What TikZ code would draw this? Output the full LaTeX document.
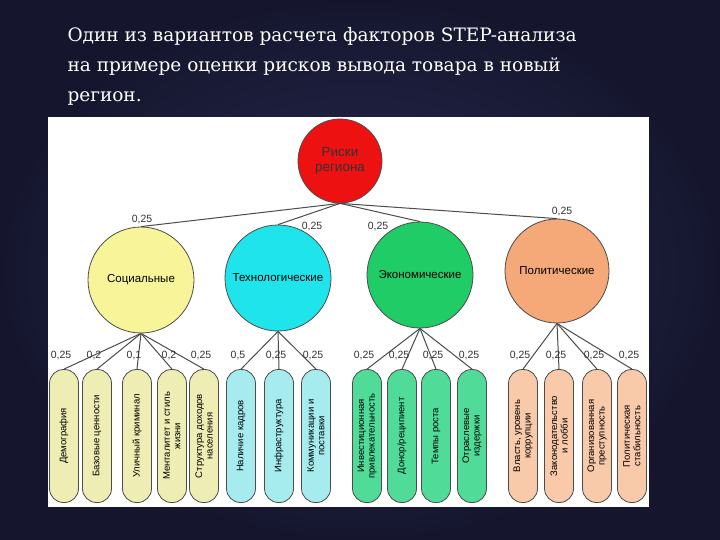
\documentclass[tikz,border=0pt]{standalone}
\usepackage{fontspec}
\setmainfont{DejaVu Serif}
\newfontfamily\dsans{Liberation Sans}
\usetikzlibrary{calc}
\definecolor{bgnavy}{HTML}{2A2B52}
\definecolor{bgdark}{HTML}{15162E}
\definecolor{csoc}{HTML}{F8F49A}\definecolor{lsoc}{HTML}{EEEDB4}
\definecolor{ctec}{HTML}{20E4EC}\definecolor{ltec}{HTML}{A6ECEE}
\definecolor{ceco}{HTML}{20CC66}\definecolor{leco}{HTML}{50DC98}
\definecolor{cpol}{HTML}{F5A878}\definecolor{lpol}{HTML}{F8CAAA}
\definecolor{croot}{HTML}{EE1111}
\tikzset{
 circ/.style={circle,draw=black!70,line width=0.8pt,inner sep=0pt,font=\dsans\fontsize{11.5}{12}\selectfont},
 pill/.style={rectangle,rounded corners=14pt,draw=black!70,line width=0.8pt,minimum width=133,minimum height=29,rotate=90,inner sep=1pt,align=center,font=\dsans\fontsize{9.5}{10.5}\selectfont},
 edge/.style={draw=black!70,line width=1pt},
 wt/.style={font=\dsans\fontsize{10.5}{11}\selectfont,text=black!80,inner sep=0pt}
}
\newcommand\leafwt[2]{\node[wt] at ($(#1.east)+(-3,-14)$) {#2};}
\begin{document}
\begin{tikzpicture}[x=1pt,y=-1pt]
\useasboundingbox (0,0) rectangle (720,540);
\shade[inner color=bgnavy,outer color=bgdark] (0,0) rectangle (720,540);
\fill[white] (48,117) rectangle (649,507);
\node[anchor=west,text=white,align=left,font=\fontsize{18.5}{30}\selectfont] (title) at (64,66) {Один из вариантов расчета факторов STEP-анализа\\на примере оценки рисков вывода товара в новый\\регион.};
\node[circ,fill=croot,minimum size=84,align=center,font=\dsans\fontsize{13.5}{15}\selectfont,text=black!80] (root) at (340,161) {Риски\\региона};
\node[circ,fill=csoc,minimum size=106] (soc) at (141,280) {Социальные};
\node[circ,fill=ctec,minimum size=106] (tec) at (278,278) {Технологические};
\node[circ,fill=ceco,minimum size=106] (eco) at (420,275) {Экономические};
\node[circ,fill=cpol,minimum size=104] (pol) at (557,271) {Политические};
\draw[edge] (root.south) -- (soc.north);
\draw[edge] (root.south) -- (tec.north);
\draw[edge] (root.south) -- (eco.north);
\draw[edge] (root.south) -- (pol.north);
\node[wt] (w1) at (142,220) {0,25};
\node[wt] (w2) at (312,227) {0,25};
\node[wt] (w3) at (378,227) {0,25};
\node[wt] (w4) at (562,212) {0,25};
\node[pill,fill=lsoc] (s1) at (64,436) {Демография};
\node[pill,fill=lsoc] (s2) at (97,436) {Базовые ценности};
\node[pill,fill=lsoc] (s3) at (137,436) {Уличный криминал};
\node[pill,fill=lsoc] (s4) at (172,436) {Менталитет и стиль\\жизни};
\node[pill,fill=lsoc] (s5) at (204,436) {Структура доходов\\населения};
\node[pill,fill=ltec] (t1) at (241,436) {Наличие кадров};
\node[pill,fill=ltec] (t2) at (279,436) {Инфраструктура};
\node[pill,fill=ltec] (t3) at (316,436) {Коммуникации и\\поставки};
\node[pill,fill=leco] (e1) at (367,436) {Инвестиционная\\привлекательность};
\node[pill,fill=leco] (e2) at (402,436) {Донор/реципиент};
\node[pill,fill=leco] (e3) at (436,436) {Темпы роста};
\node[pill,fill=leco] (e4) at (472,436) {Отраслевые\\издержки};
\node[pill,fill=lpol] (p1) at (523,436) {Власть, уровень\\коррупции};
\node[pill,fill=lpol] (p2) at (559,436) {Законодательство\\и лобби};
\node[pill,fill=lpol] (p3) at (597,436) {Организованная\\преступность};
\node[pill,fill=lpol] (p4) at (632,436) {Политическая\\стабильность};
\foreach \p/\l in {soc/s1,soc/s2,soc/s3,soc/s4,soc/s5,tec/t1,tec/t2,tec/t3,eco/e1,eco/e2,eco/e3,eco/e4,pol/p1,pol/p2,pol/p3,pol/p4}
  \draw[edge] (\p.south) -- (\l.east);
\leafwt{s1}{0,25}\leafwt{s2}{0,2}\leafwt{s3}{0,1}\leafwt{s4}{0,2}\leafwt{s5}{0,25}
\leafwt{t1}{0,5}\leafwt{t2}{0,25}\leafwt{t3}{0,25}
\leafwt{e1}{0,25}\leafwt{e2}{0,25}\leafwt{e3}{0,25}\leafwt{e4}{0,25}
\leafwt{p1}{0,25}\leafwt{p2}{0,25}\leafwt{p3}{0,25}\leafwt{p4}{0,25}
\end{tikzpicture}
\end{document}
